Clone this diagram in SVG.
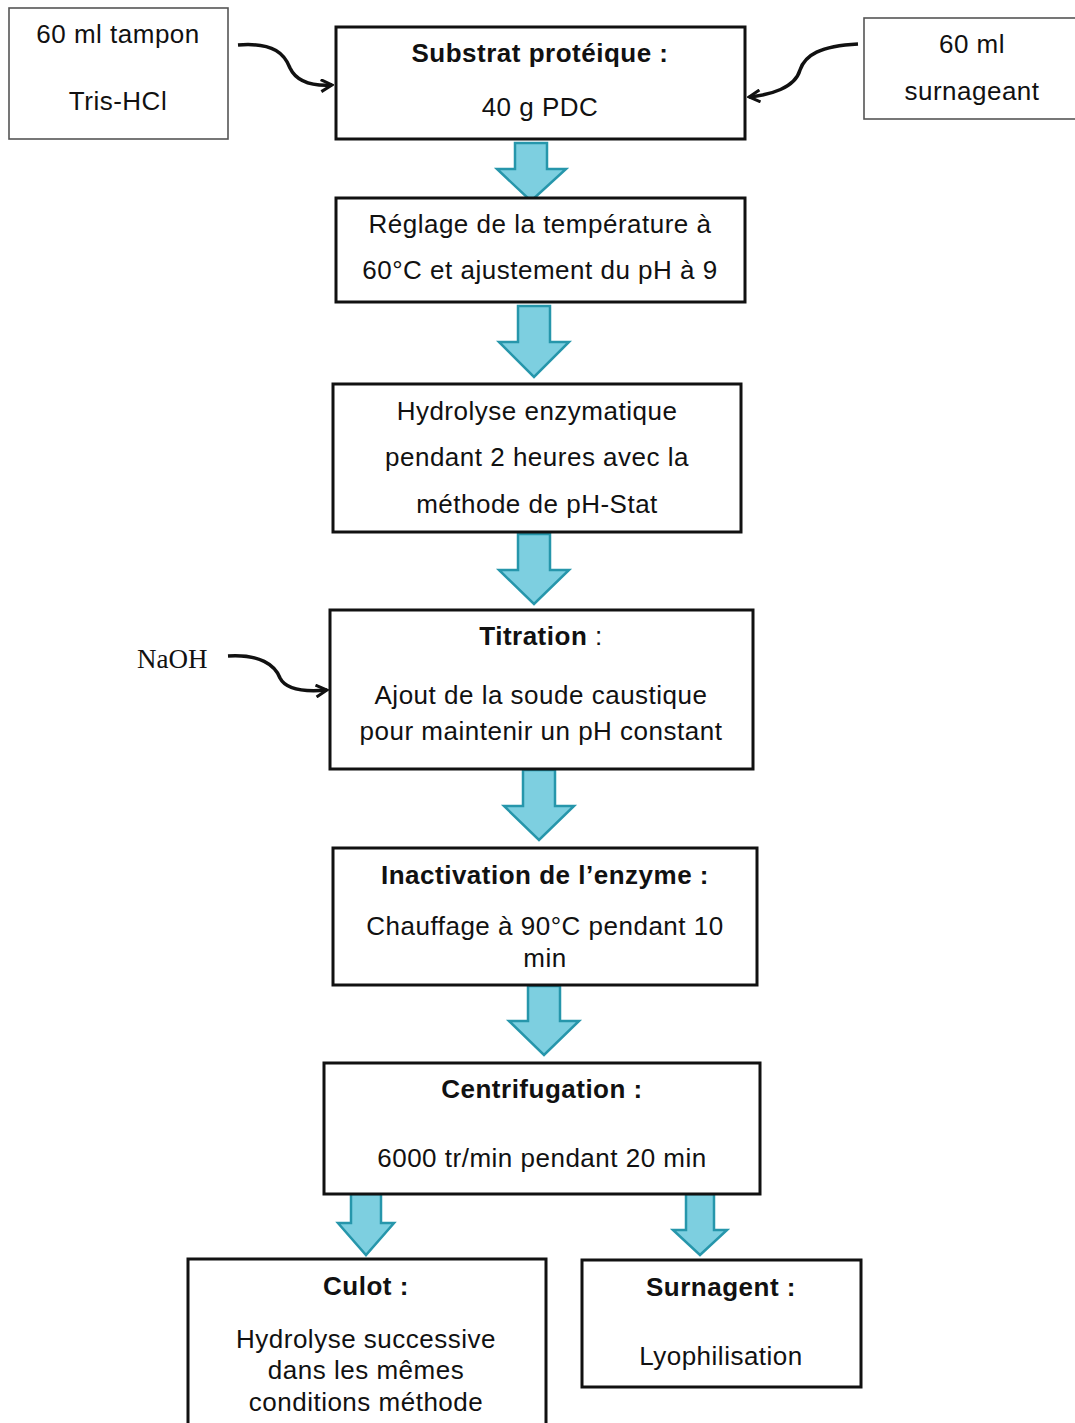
<svg xmlns="http://www.w3.org/2000/svg" width="1075" height="1423" viewBox="0 0 1075 1423">
<style>
text{font-family:"Liberation Sans",Arial,sans-serif;font-size:26px;letter-spacing:0.5px;fill:#111;text-anchor:middle}
.b{font-weight:bold}
.serif{font-family:"Liberation Serif","Times New Roman",serif;font-size:27px;letter-spacing:0;text-anchor:start}
.box{fill:#fff;stroke:#111;stroke-width:3}
.thin{fill:#fff;stroke:#555;stroke-width:1.6}
.blk{fill:#7dcfe0;stroke:#2696ab;stroke-width:2.5;stroke-linejoin:miter}
.cv{fill:none;stroke:#111;stroke-width:3.5}
</style>
<defs>
<marker id="ah" viewBox="0 0 14 14" refX="12" refY="7" markerWidth="14" markerHeight="14" markerUnits="userSpaceOnUse" orient="auto">
<path d="M1,1 L12,7 L1,13" fill="none" stroke="#111" stroke-width="3"/>
</marker>
</defs>
<rect width="1075" height="1423" fill="#fff"/>
<g id="connectors">
<path class="cv" d="M238,45 C275,42 285,55 290,68 C297,83 315,86 332,85" marker-end="url(#ah)"/>
<path class="cv" d="M858,44 C820,46 805,55 800,70 C795,88 770,95 749,97" marker-end="url(#ah)"/>
<path class="cv" d="M228,656 C260,654 275,665 280,678 C286,690 305,692 327,690" marker-end="url(#ah)"/>
<path class="blk" d="M515,143 H547 V169 H566 L531,201 L497,169 H515 Z"/>
<path class="blk" d="M518,306 H550 V342 H569 L534,377 L499,342 H518 Z"/>
<path class="blk" d="M518,534 H550 V570 H569 L534,604 L499,570 H518 Z"/>
<path class="blk" d="M523,770 H555 V806 H574 L539,840 L504,806 H523 Z"/>
<path class="blk" d="M528,986 H560 V1021 H579 L544,1055 L509,1021 H528 Z"/>
<path class="blk" d="M351,1194 H381 V1223 H394 L366,1255 L338,1223 H351 Z"/>
<path class="blk" d="M686,1194 H714 V1230 H727 L700,1255 L673,1230 H686 Z"/>
</g>
<g id="tampon">
<rect class="thin" x="9" y="8" width="219" height="131"/>
<text x="118" y="43">60 ml tampon</text>
<text x="118" y="110">Tris-HCl</text>
</g>
<g id="substrat">
<rect class="box" x="336" y="27" width="409" height="112"/>
<text class="b" x="540" y="62">Substrat protéique :</text>
<text x="540" y="116">40 g PDC</text>
</g>
<g id="surnageant">
<rect class="thin" x="864" y="18" width="215" height="101"/>
<text x="972" y="53">60 ml</text>
<text x="972" y="100">surnageant</text>
</g>
<g id="reglage">
<rect class="box" x="336" y="198" width="409" height="104"/>
<text x="540" y="233">Réglage de la température à</text>
<text x="540" y="279">60°C et ajustement du pH à 9</text>
</g>
<g id="hydrolyse">
<rect class="box" x="333" y="384" width="408" height="148"/>
<text x="537" y="420">Hydrolyse enzymatique</text>
<text x="537" y="466">pendant 2 heures avec la</text>
<text x="537" y="513">méthode de pH-Stat</text>
</g>
<g id="naoh">
<text class="serif" x="137" y="668">NaOH</text>
</g>
<g id="titration">
<rect class="box" x="330" y="610" width="423" height="159"/>
<text x="541" y="645"><tspan class="b">Titration</tspan> :</text>
<text x="541" y="704">Ajout de la soude caustique</text>
<text x="541" y="740">pour maintenir un pH constant</text>
</g>
<g id="inactivation">
<rect class="box" x="333" y="848" width="424" height="137"/>
<text class="b" x="545" y="884">Inactivation de l’enzyme :</text>
<text x="545" y="935">Chauffage à 90°C pendant 10</text>
<text x="545" y="967">min</text>
</g>
<g id="centrifugation">
<rect class="box" x="324" y="1063" width="436" height="131"/>
<text class="b" x="542" y="1098">Centrifugation :</text>
<text x="542" y="1167">6000 tr/min pendant 20 min</text>
</g>
<g id="culot">
<rect class="box" x="188" y="1259" width="358" height="180"/>
<text class="b" x="366" y="1295">Culot :</text>
<text x="366" y="1348">Hydrolyse successive</text>
<text x="366" y="1379">dans les mêmes</text>
<text x="366" y="1411">conditions méthode</text>
</g>
<g id="surnagent">
<rect class="box" x="582" y="1260" width="279" height="127"/>
<text class="b" x="721" y="1296">Surnagent :</text>
<text x="721" y="1365">Lyophilisation</text>
</g>
</svg>
